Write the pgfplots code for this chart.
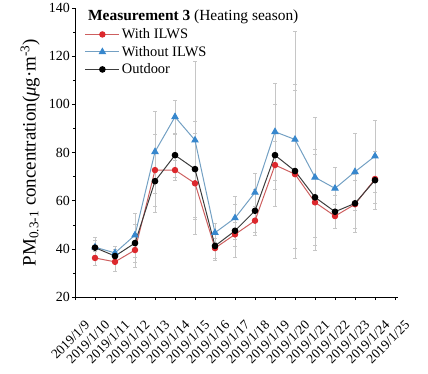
\documentclass[border=0pt]{standalone}
\usepackage{fontspec}
\setmainfont{Liberation Serif}
\usepackage{pgfplots}
\usepackage{pgfplotstable}
\pgfplotsset{compat=1.18}

\definecolor{withred}{RGB}{220,40,45}
\definecolor{withline}{RGB}{205,95,95}
\definecolor{woblue}{RGB}{55,135,205}
\definecolor{woline}{RGB}{115,160,195}
\definecolor{outline}{RGB}{60,60,60}

\pgfplotsset{
  longlegend/.style={legend image code/.code={\draw[mark repeat=2,mark phase=2] plot coordinates {(0bp,0bp) (17bp,0bp) (34bp,0bp)};}},
  sdbars/.style={forget plot, draw=none, mark=none, error bars/.cd, y dir=both, y explicit,
    error bar style={draw=gray!45, line width=0.45pt},
    error mark options={draw=gray!45, mark size=1.8pt, rotate=90}},
}

% daily mean PM concentration and its standard deviation
\pgfplotstableread{
day y err
10 36.2 3
11 34.6 4
12 39.5 7
13 72.7 15
14 72.7 4
15 67.2 21
16 40.3 4
17 46.0 5
18 51.7 6
19 74.8 10
20 71.0 35
21 59.3 20
22 53.6 5
23 58.5 10
24 69.0 10
}\withILWS

\pgfplotstableread{
day y err
10 40.7 4
11 38.3 3
12 45.7 9
13 80.3 17
14 94.8 7
15 85.1 33
16 46.7 4
17 52.8 9
18 63.4 8
19 88.6 20
20 85.4 45
21 69.7 25
22 65.1 9
23 72.0 16
24 78.5 15
}\withoutILWS

\pgfplotstableread{
day y err
10 40.5 3
11 37.0 3
12 42.4 8
13 68.1 13
14 78.9 9
15 73.1 20
16 41.2 6
17 47.5 11
18 55.8 9
19 78.9 21
20 72.3 36
21 61.4 20
22 55.4 7
23 58.9 12
24 68.5 12
}\outdoor

\begin{document}
\begin{tikzpicture}
\begin{axis}[
  scale only axis,
  width=323bp, height=289bp,
  xmin=9, xmax=25.15, ymin=20, ymax=140,
  axis lines=left,
  x axis line style={-}, y axis line style={-},
  tick align=outside,
  major tick length=3bp, minor tick length=1.8bp,
  tick style={black, line width=0.4pt},
  xtick={9,...,25},
  xticklabels={2019/1/9,2019/1/10,2019/1/11,2019/1/12,2019/1/13,2019/1/14,2019/1/15,2019/1/16,2019/1/17,2019/1/18,2019/1/19,2019/1/20,2019/1/21,2019/1/22,2019/1/23,2019/1/24,2019/1/25},
  x tick label style={xshift=9bp, yshift=-18bp, rotate=45, anchor=north east, inner sep=1pt, font=\fontsize{13.5}{15}\selectfont},
  ytick={20,40,...,140},
  minor y tick num=1,
  y tick label style={font=\fontsize{14}{16}\selectfont, inner sep=2pt},
  /pgf/number format/assume math mode=true,
  ylabel={PM\textsubscript{0.3-1} concentration(\textit{μ}g·m\textsuperscript{-3})},
  every axis y label/.style={at={(axis description cs:-0.139,0.5)}, rotate=90, anchor=center, font=\fontsize{19}{21}\selectfont},
  legend style={at={(rel axis cs:0.03,0.936)}, anchor=north west, draw=none, fill=none,
    font=\fontsize{14.5}{16}\selectfont, row sep=2pt, inner sep=0pt},
  legend cell align=left,
  clip=false,
]
% standard deviation bars, kept beneath the lines
\addplot[sdbars] table[x=day, y=y, y error=err] {\withILWS};
\addplot[sdbars] table[x=day, y=y, y error=err] {\withoutILWS};
\addplot[sdbars] table[x=day, y=y, y error=err] {\outdoor};

\addplot[withline, line width=1pt, mark=*, mark size=2.7pt, mark options={fill=withred, draw=withred}, longlegend]
  table[x=day, y=y] {\withILWS};
\addlegendentry{With ILWS}
\addplot[woline, line width=1pt, mark=triangle*, mark size=3.5pt, mark options={fill=woblue, draw=woblue}, longlegend]
  table[x=day, y=y] {\withoutILWS};
\addlegendentry{Without ILWS}
\addplot[outline, line width=1pt, mark=*, mark size=2.8pt, mark options={fill=black, draw=black}, longlegend]
  table[x=day, y=y] {\outdoor};
\addlegendentry{Outdoor}

\node[anchor=west, inner sep=0pt, font=\fontsize{15.5}{17}\selectfont] at (rel axis cs:0.04,0.969)
  {\textbf{Measurement 3} (Heating season)};
\end{axis}
% fixed page frame around the plot area
\pgfresetboundingbox
\path[use as bounding box] (-75bp,-77bp) rectangle (353bp,297bp);
\end{tikzpicture}
\end{document}
